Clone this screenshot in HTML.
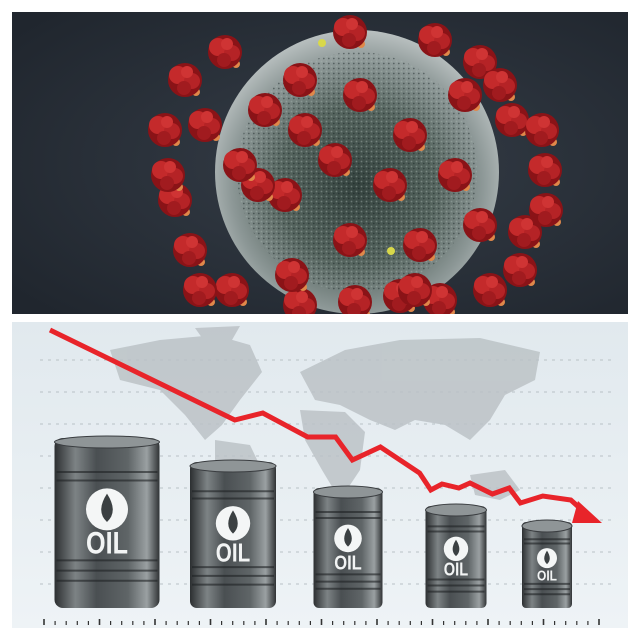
<!DOCTYPE html>
<html><head><meta charset="utf-8"><style>
html,body{margin:0;padding:0;background:#fff;width:640px;height:640px;overflow:hidden;font-family:"Liberation Sans",sans-serif}
svg{display:block}
</style></head><body>
<svg width="640" height="640" viewBox="0 0 640 640">
<defs>
<radialGradient id="bg" cx="0.55" cy="0.5" r="0.7"><stop offset="0" stop-color="#353d47"/><stop offset="1" stop-color="#20262e"/></radialGradient>
<radialGradient id="sph" cx="0.5" cy="0.55" r="0.55"><stop offset="0" stop-color="#34423e"/><stop offset="0.5" stop-color="#56655f"/><stop offset="0.8" stop-color="#8c9796"/><stop offset="1" stop-color="#b9c0c0"/></radialGradient>
<pattern id="spec" width="5" height="5" patternUnits="userSpaceOnUse"><circle cx="1.5" cy="1.5" r="0.9" fill="#a9b6b2" opacity="0.45"/><circle cx="3.8" cy="3.5" r="0.9" fill="#142020" opacity="0.45"/></pattern>
<linearGradient id="barrel" x1="0" x2="1"><stop offset="0" stop-color="#2c2f31"/><stop offset="0.2" stop-color="#7d8385"/><stop offset="0.4" stop-color="#4a4f52"/><stop offset="0.7" stop-color="#5f6567"/><stop offset="0.88" stop-color="#9aa0a2"/><stop offset="1" stop-color="#303335"/></linearGradient>
<linearGradient id="panel" x1="0" y1="0" x2="0" y2="1"><stop offset="0" stop-color="#e1e9ee"/><stop offset="1" stop-color="#eef3f6"/></linearGradient>
</defs>
<g>
<rect x="12" y="12" width="616" height="302" fill="url(#bg)"/>
<clipPath id="tc"><rect x="12" y="12" width="616" height="302"/></clipPath>
<g clip-path="url(#tc)" id="virus">
<circle cx="357" cy="172" r="142" fill="url(#sph)"/>
<circle cx="357" cy="172" r="120" fill="url(#spec)"/>
</g>
</g>
<g>
<rect x="12" y="322" width="616" height="306" fill="url(#panel)"/>
<g id="map" fill="#b4babe" opacity="0.7">
<path d="M110,350 L160,340 L215,335 L250,345 L262,372 L240,400 L222,425 L205,440 L185,415 L160,390 L120,380 Z"/>
<path d="M215,440 L250,445 L262,470 L248,510 L235,535 L225,505 L215,470 Z"/>
<path d="M195,328 L240,326 L232,340 L205,342 Z"/>
<path d="M300,372 L345,350 L400,340 L480,338 L540,352 L535,380 L505,395 L490,420 L470,440 L445,425 L415,420 L395,430 L370,420 L340,405 L315,400 Z"/>
<path d="M300,410 L345,412 L365,432 L360,470 L340,500 L322,470 L305,440 Z"/>
<path d="M470,475 L505,470 L520,490 L500,500 L475,495 Z"/>
</g>
<g id="grid"></g>
<g id="barrels"></g>
<g id="line"></g>
<g id="ticks"></g>
</g>
</svg>
<script>
const NS="http://www.w3.org/2000/svg";
function mk(t,a,p){const e=document.createElementNS(NS,t);for(const k in a)e.setAttribute(k,a[k]);p.appendChild(e);return e;}
const spikeX=[225,350,435,480,500,512,542,546,525,490,440,400,355,300,232,190,175,165,185,205,265,300,360,410,465,390,335,285,455,480,420,350,292,258,305,415,240,545,168,520,200];
const spikeY=[52,32,40,62,85,120,130,210,232,290,300,296,302,305,290,250,200,130,80,125,110,80,95,135,95,185,160,195,175,225,245,240,275,185,130,290,165,170,175,270,290];
const vg=document.getElementById('virus');
for(let i=0;i<spikeX.length;i++){
 const g=mk('g',{},vg);
 
 
 const x=spikeX[i],y=spikeY[i];
 mk('circle',{cx:x+11,cy:y+12,r:4,fill:'#e0884a'},g);
 mk('circle',{cx:x-9,cy:y+9,r:3.5,fill:'#d97a40'},g);
 mk('circle',{cx:x,cy:y,r:17,fill:'#8a1317'},g);
 mk('circle',{cx:x-7,cy:y-5,r:9,fill:'#c42a2b'},g);
 mk('circle',{cx:x+7,cy:y+1,r:8,fill:'#b52326'},g);
 mk('circle',{cx:x-1,cy:y+8,r:7,fill:'#a11b1f'},g);
 mk('circle',{cx:x+2,cy:y-8,r:6,fill:'#cf3434'},g);
}
mk('circle',{cx:322,cy:43,r:4,fill:'#d8d84a'},vg);
mk('circle',{cx:391,cy:251,r:4,fill:'#d8d84a'},vg);
// chart data
const gridVals=[1,2,3,4,5,6,7,8];
const barrelHeights=[170,146,120,102,86];
const barrelX=[107,233,348,456,547];
const barrelW=[105,86,69,61,50];
const lineX=[0,3.3,3.8,4.6,5.1,5.4,5.9,6.6,6.8,7.0,7.3,7.5,7.9,8.2,8.4,8.8,9.3,9.5];
const lineY=[0,-90,-83,-107,-107,-130,-117,-143,-160,-154,-158,-153,-164,-158,-173,-166,-170,-180];
const sx=v=>50+v*56, sy=v=>330-v;
const gg=document.getElementById('grid');
gridVals.forEach(v=>{const l=mk('line',{x1:40,x2:615,y1:328+v*32,y2:328+v*32,stroke:'#b9c1c6','stroke-width':1,'stroke-dasharray':'3,5'},gg);
 });
const bg=document.getElementById('barrels');const base=608;
barrelHeights.forEach((h,i)=>{
 const g=mk('g',{},bg);
 
 
 const w=barrelW[i],cx=barrelX[i],x=cx-w/2,top=base-h;
 mk('rect',{x:x,y:top,width:w,height:h,rx:w*0.08,fill:'url(#barrel)'},g);
 mk('ellipse',{cx:cx,cy:top+4,rx:w/2,ry:6,fill:'#8f9597',stroke:'#3a3d40'},g);
 [0.2,0.25,0.72,0.78,0.84].forEach(f=>mk('line',{x1:x+2,x2:x+w-2,y1:top+h*f,y2:top+h*f,stroke:'#1f2224','stroke-width':2,opacity:0.6},g));
 const r=w*0.2;const dy=top+h*0.42;
 mk('circle',{cx:cx,cy:dy,r:r,fill:'#f4f6f6'},g);
 mk('path',{d:`M${cx},${dy-r*0.75} Q${cx+r*0.55},${dy+r*0.1} ${cx},${dy+r*0.6} Q${cx-r*0.55},${dy+r*0.1} ${cx},${dy-r*0.75}Z`,fill:'#3b4042'},g);
 const t=mk('text',{x:cx,y:top+h*0.68,'text-anchor':'middle','font-size':w*0.3,'font-weight':'bold',fill:'#f2f4f4',transform:`translate(${cx} 0) scale(0.8 1) translate(${-cx} 0)`},g);
 t.textContent='OIL';
});
const lg=document.getElementById('line');
const pts=lineX.map((v,i)=>sx(v)+','+sy(lineY[i])).join(' ');
const pl=mk('polyline',{points:pts,fill:'none',stroke:'#e8242a','stroke-width':5,'stroke-linejoin':'miter'},lg);

const ex=sx(lineX[lineX.length-1]),ey=sy(lineY[lineY.length-1]);
const ar=mk('polygon',{points:`${ex-4},${ey-9} ${ex+20},${ey+13} ${ex-10},${ey+13}`,fill:'#e8242a'},lg);

const tg=document.getElementById('ticks');
for(let i=0;i<=50;i++){const x=44+i*11.1;const big=i%5===0;
 const t=mk('line',{x1:x,x2:x,y1:big?619:621,y2:625,stroke:'#333','stroke-width':big?1.6:1.2},tg);
 }
</script>
</body></html>
